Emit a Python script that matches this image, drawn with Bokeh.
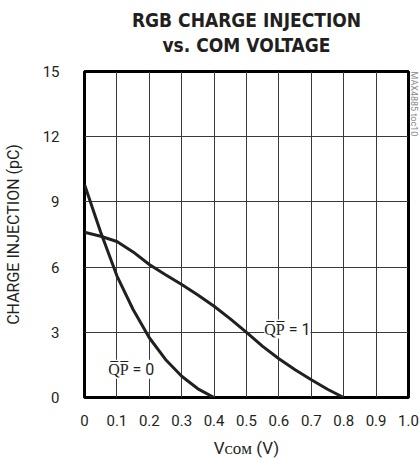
from bokeh.plotting import figure
from bokeh.models import Range1d, Label, FixedTicker, Title
from bokeh.embed import file_html
from bokeh.resources import INLINE

# data
vcom_qp0 = [0.0, 0.05, 0.1, 0.15, 0.2, 0.25, 0.3, 0.35, 0.4]
q_qp0 = [9.8, 7.6, 5.6, 4.05, 2.75, 1.75, 0.98, 0.4, 0.0]
vcom_qp1 = [0.0, 0.05, 0.1, 0.15, 0.2, 0.25, 0.3, 0.35, 0.4, 0.45, 0.5,
            0.55, 0.6, 0.65, 0.7, 0.75, 0.8]
q_qp1 = [7.6, 7.42, 7.18, 6.7, 6.12, 5.65, 5.2, 4.72, 4.2, 3.62, 3.0,
         2.35, 1.78, 1.28, 0.82, 0.38, 0.0]
x_ticks = [0.0, 0.1, 0.2, 0.3, 0.4, 0.5, 0.6, 0.7, 0.8, 0.9, 1.0]
x_tick_labels = ["0", "0.1", "0.2", "0.3", "0.4", "0.5", "0.6", "0.7", "0.8", "0.9", "1.0"]
y_ticks = [0, 3, 6, 9, 12, 15]
y_tick_labels = ["0", "3", "6", "9", "12", "15"]
title_lines = ["RGB CHARGE INJECTION", "vs. COM VOLTAGE"]
y_label = "CHARGE INJECTION (pC)"
x_label = "V\u1d04\u1d0f\u1d0d (V)"
label_qp0 = "Q\u0305P\u0305 = 0"
label_qp1 = "Q\u0305P\u0305 = 1"
side_note = "MAX4885 toc10"

FONT = "Roboto"
TFONT = "DejaVu Sans Condensed, Roboto"
INK = "#231f20"

p = figure(width=420, height=460, output_backend="svg", toolbar_location=None,
           x_range=Range1d(0, 1), y_range=Range1d(0, 15),
           min_border_left=81, min_border_right=10, min_border_top=71,
           min_border_bottom=61)
p.background_fill_color = "white"
p.border_fill_color = "white"
p.outline_line_color = "black"
p.outline_line_width = 3

for ax in (p.xaxis, p.yaxis):
    ax.axis_line_color = None
    ax.major_tick_line_color = None
    ax.minor_tick_line_color = None
    ax.major_label_text_font = FONT
    ax.major_label_text_font_size = "15px"
    ax.major_label_text_color = INK
    ax.axis_label_text_font = FONT
    ax.axis_label_text_font_style = "normal"
    ax.axis_label_text_color = INK

p.xaxis.ticker = FixedTicker(ticks=x_ticks)
p.xaxis.major_label_overrides = {t: s for t, s in zip(x_ticks, x_tick_labels)}
p.xaxis.major_label_standoff = 11
p.xaxis.axis_label = x_label
p.xaxis.axis_label_text_font_size = "17px"
p.xaxis.axis_label_standoff = 9

p.yaxis.ticker = FixedTicker(ticks=y_ticks)
p.yaxis.major_label_overrides = {t: s for t, s in zip(y_ticks, y_tick_labels)}
p.yaxis.major_label_standoff = 19
p.yaxis.axis_label = y_label
p.yaxis.axis_label_text_font_size = "16px"
p.yaxis.axis_label_standoff = 17

p.xgrid.ticker = FixedTicker(ticks=x_ticks)
p.ygrid.ticker = FixedTicker(ticks=y_ticks)
for g in (p.xgrid, p.ygrid):
    g.grid_line_color = "#3a3a3a"
    g.grid_line_width = 1

p.line(vcom_qp0, q_qp0, line_color=INK, line_width=3)
p.line(vcom_qp1, q_qp1, line_color=INK, line_width=3)

p.add_layout(Label(x=0.073, y=1.3, text=label_qp0, text_font=FONT,
                   text_font_size="16px", text_baseline="middle",
                   text_color=INK, background_fill_color="white"))
p.add_layout(Label(x=0.555, y=3.15, text=label_qp1, text_font=FONT,
                   text_font_size="16px", text_baseline="middle",
                   text_color=INK, background_fill_color="white"))

# title lines: the later one added sits further from the frame
p.add_layout(Title(text=title_lines[1], align="center", text_font=TFONT,
                   text_font_style="bold", text_font_size="19px",
                   text_color=INK, standoff=31), "above")
p.add_layout(Title(text=title_lines[0], align="center", text_font=TFONT,
                   text_font_style="bold", text_font_size="19px",
                   text_color=INK, standoff=-28), "above")

p.add_layout(Title(text=side_note, align="left", text_font=FONT,
                   text_font_style="normal", text_font_size="9px",
                   text_color="#888888", standoff=0), "right")

open("out.html", "w").write(file_html(p, INLINE))
